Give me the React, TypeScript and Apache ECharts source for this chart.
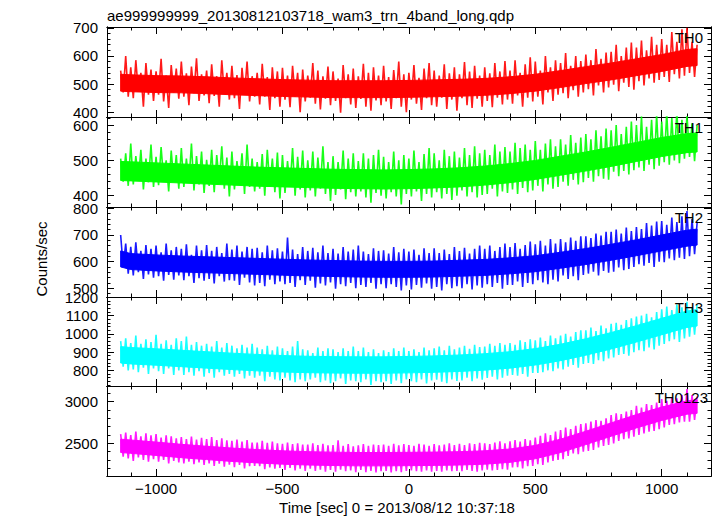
import React, { useEffect, useRef } from "react";
import * as echarts from "echarts";

const TITLE = "ae999999999_20130812103718_wam3_trn_4band_long.qdp";
const X_NAME = "Time [sec] 0 = 2013/08/12 10:37:18";
const Y_NAME = "Counts/sec";
const PANEL_NAMES = ["TH0", "TH1", "TH2", "TH3", "TH0123"];
const COLORS = ["#ff0000", "#00ff00", "#0000ff", "#00ffff", "#ff00ff"];

// fine sampling of the light curves (s)
const T_START = -1140;
const T_STEP = 10;

const TH0_FINE = [548, 470, 600, 455,
  560, 450, 585, 472, 540, 420, 575, 462, 552, 440,
  545, 462, 590, 438, 530, 415, 568, 470, 555, 448,
  580, 455, 538, 425, 562, 468, 592, 440, 535, 460,
  548, 432, 570, 458, 528, 420, 585, 465, 540, 445,
  565, 450, 532, 412, 558, 462, 580, 438, 528, 455,
  540, 428, 572, 455, 525, 408, 560, 450, 545, 420,
  558, 445, 530, 418, 565, 455, 540, 400, 552, 438,
  530, 452, 575, 430, 548, 410, 528, 448, 562, 425,
  545, 440, 520, 398, 568, 450, 535, 428, 555, 415,
  528, 447, 572, 420, 540, 405, 560, 442, 530, 425,
  565, 438, 525, 412, 550, 450, 580, 420, 535, 400,
  540, 445, 568, 430, 522, 408, 555, 450, 575, 425,
  548, 420, 530, 452, 570, 412, 538, 445, 560, 405,
  535, 450, 578, 425, 545, 415, 565, 448, 530, 420,
  560, 440, 538, 418, 575, 452, 545, 428, 582, 445,
  548, 430, 585, 460, 540, 420, 570, 452, 595, 438,
  580, 455, 548, 428, 600, 470, 560, 440, 585, 462,
  575, 468, 610, 450, 565, 478, 600, 455, 582, 470,
  605, 482, 585, 460, 625, 495, 590, 470, 612, 488,
  615, 498, 640, 475, 600, 505, 630, 490, 648, 480,
  630, 510, 655, 495, 620, 520, 668, 505, 640, 515,
  660, 525, 640, 508, 685, 535, 650, 520, 695, 530,
  700, 540, 650, 525, 640];

const TH1_FINE = [505, 440, 520, 428,
  548, 432, 512, 445, 530, 418, 505, 438, 545, 425,
  510, 430, 538, 445, 500, 412, 528, 440, 515, 420,
  535, 425, 505, 438, 548, 415, 512, 432, 525, 408,
  502, 428, 530, 410, 515, 440, 540, 420, 508, 398,
  525, 418, 498, 435, 520, 405, 545, 425, 505, 412,
  495, 420, 518, 400, 530, 428, 505, 410, 522, 392,
  515, 408, 498, 425, 535, 400, 510, 418, 528, 395,
  500, 415, 525, 398, 508, 420, 540, 405, 495, 385,
  512, 402, 495, 418, 528, 390, 505, 410, 520, 398,
  498, 412, 520, 395, 505, 380, 515, 408, 530, 400,
  510, 392, 495, 410, 525, 398, 500, 375, 515, 405,
  505, 398, 528, 412, 495, 385, 518, 405, 535, 395,
  520, 410, 500, 392, 530, 405, 512, 388, 525, 400,
  508, 415, 535, 398, 515, 410, 540, 395, 520, 402,
  530, 405, 515, 420, 545, 398, 525, 412, 538, 408,
  525, 418, 550, 405, 535, 422, 545, 410, 530, 415,
  555, 428, 530, 412, 548, 432, 560, 420, 540, 425,
  560, 440, 545, 428, 572, 445, 550, 432, 565, 438,
  575, 450, 560, 440, 585, 455, 568, 448, 590, 445,
  585, 468, 600, 455, 575, 470, 595, 460, 610, 472,
  600, 480, 625, 470, 595, 488, 615, 475, 630, 485,
  610, 495, 635, 488, 620, 500, 640, 492, 615, 505,
  630, 510, 605, 498, 600];

const TH2_FINE = [700, 580, 668, 555,
  655, 548, 672, 560, 640, 535, 662, 552, 648, 540,
  660, 545, 635, 528, 668, 550, 642, 532, 655, 548,
  648, 530, 665, 545, 625, 520, 660, 538, 642, 528,
  662, 535, 640, 518, 655, 545, 632, 525, 668, 530,
  645, 528, 660, 512, 638, 540, 655, 522, 648, 510,
  652, 520, 635, 508, 660, 532, 642, 515, 650, 525,
  638, 515, 690, 520, 645, 505, 628, 530, 655, 512,
  640, 528, 652, 502, 635, 518, 660, 510, 632, 522,
  648, 498, 630, 515, 655, 508, 638, 520, 645, 500,
  660, 512, 638, 505, 628, 520, 650, 498, 640, 515,
  642, 500, 630, 515, 655, 505, 635, 492, 648, 510,
  638, 495, 645, 512, 625, 502, 650, 518, 632, 498,
  650, 505, 632, 492, 645, 515, 628, 500, 655, 508,
  640, 500, 652, 515, 630, 495, 648, 510, 660, 502,
  648, 515, 660, 505, 640, 520, 655, 498, 668, 512,
  655, 512, 670, 525, 648, 505, 662, 520, 675, 515,
  665, 530, 678, 522, 660, 515, 685, 532, 668, 525,
  685, 548, 672, 535, 690, 545, 678, 530, 695, 550,
  695, 555, 688, 562, 705, 548, 698, 565, 712, 558,
  712, 562, 720, 578, 705, 568, 728, 572, 715, 580,
  730, 590, 722, 585, 745, 595, 735, 580, 750, 600,
  752, 598, 738, 612, 765, 605, 748, 615, 770, 610,
  790, 620, 760, 628, 745];

const TH3_FINE = [960, 820, 975, 800,
  950, 805, 990, 790, 945, 815, 970, 780, 955, 810,
  995, 795, 945, 780, 965, 810, 940, 775, 975, 800,
  960, 775, 985, 790, 940, 770, 955, 795, 935, 765,
  945, 785, 930, 760, 960, 790, 925, 770, 950, 780,
  935, 765, 920, 780, 940, 755, 925, 770, 945, 760,
  925, 770, 915, 740, 935, 765, 910, 750, 930, 745,
  920, 760, 905, 745, 930, 735, 960, 750, 915, 740,
  910, 750, 895, 760, 925, 735, 905, 745, 920, 730,
  915, 740, 900, 755, 920, 725, 905, 745, 930, 740,
  905, 735, 925, 750, 900, 720, 915, 740, 895, 735,
  910, 740, 900, 725, 920, 745, 905, 730, 925, 750,
  905, 740, 915, 735, 900, 750, 925, 728, 910, 745,
  920, 748, 930, 738, 910, 730, 935, 750, 915, 742,
  925, 745, 935, 760, 918, 740, 940, 755, 928, 748,
  930, 758, 945, 765, 935, 750, 950, 760, 940, 770,
  950, 775, 940, 770, 965, 780, 955, 765, 970, 785,
  965, 785, 980, 790, 960, 800, 990, 795, 975, 810,
  990, 805, 1000, 820, 985, 830, 1010, 815, 1020, 835,
  1020, 840, 1035, 835, 1015, 855, 1045, 850, 1030, 865,
  1055, 870, 1060, 885, 1050, 890, 1075, 880, 1085, 900,
  1095, 910, 1100, 905, 1110, 925, 1090, 915, 1120, 935,
  1135, 945, 1150, 960, 1130, 970, 1160, 955, 1145, 975,
  1175, 985, 1145, 995, 1160];

const TH0123_FINE = [2610, 2340, 2630, 2320,
  2600, 2290, 2640, 2330, 2585, 2300, 2620, 2280, 2595, 2310,
  2610, 2280, 2570, 2300, 2595, 2260, 2585, 2290, 2560, 2270,
  2575, 2260, 2550, 2280, 2580, 2250, 2545, 2270, 2565, 2240,
  2550, 2260, 2575, 2230, 2540, 2255, 2560, 2220, 2535, 2245,
  2530, 2215, 2545, 2240, 2520, 2200, 2540, 2225, 2510, 2230,
  2510, 2225, 2530, 2190, 2505, 2210, 2520, 2195, 2500, 2205,
  2495, 2180, 2510, 2205, 2490, 2175, 2500, 2195, 2485, 2170,
  2485, 2195, 2500, 2170, 2480, 2185, 2495, 2160, 2475, 2180,
  2480, 2160, 2535, 2185, 2470, 2165, 2490, 2175, 2465, 2155,
  2475, 2180, 2490, 2155, 2470, 2170, 2485, 2150, 2480, 2165,
  2485, 2170, 2470, 2150, 2495, 2165, 2475, 2155, 2490, 2170,
  2480, 2175, 2470, 2165, 2495, 2160, 2485, 2175, 2470, 2160,
  2490, 2170, 2475, 2160, 2485, 2175, 2500, 2165, 2480, 2170,
  2495, 2165, 2480, 2180, 2500, 2170, 2490, 2160, 2505, 2175,
  2500, 2185, 2490, 2175, 2510, 2180, 2525, 2190, 2500, 2185,
  2525, 2210, 2540, 2215, 2520, 2200, 2550, 2225, 2535, 2230,
  2570, 2250, 2590, 2240, 2620, 2270, 2600, 2290, 2640, 2300,
  2660, 2310, 2690, 2350, 2670, 2380, 2710, 2370, 2730, 2400,
  2740, 2410, 2760, 2420, 2780, 2450, 2770, 2470, 2800, 2480,
  2840, 2500, 2860, 2530, 2850, 2550, 2880, 2560, 2900, 2580,
  2950, 2600, 2930, 2620, 2970, 2640, 2960, 2650, 2990, 2670,
  3030, 2690, 3010, 2720, 3050, 2730, 3040, 2750, 3080, 2760,
  3150, 2760, 3080, 2780, 3060];

// dense core of each light curve (low / high)
const BAND_T = [-1140, -1100, -1000, -900, -800, -700, -600, -500, -400, -300, -200, -100, 0,
  100, 200, 300, 400, 500, 600, 700, 800, 900, 1000, 1100, 1140];
const TH0_LO = [475, 473, 470, 469, 466, 462, 459, 456, 454, 452, 452, 452, 453, 455, 457, 460, 466, 475, 488, 502, 515, 530, 545, 563, 566];
const TH0_HI = [535, 533, 530, 529, 526, 522, 519, 516, 514, 512, 512, 512, 513, 515, 517, 520, 526, 535, 548, 562, 575, 590, 605, 623, 626];
const TH1_LO = [443, 442, 439, 436, 433, 430, 427, 425, 423, 421, 420, 419, 420, 422, 425, 430, 437, 446, 458, 470, 483, 497, 511, 522, 524];
const TH1_HI = [497, 496, 493, 490, 487, 484, 481, 479, 477, 475, 474, 473, 474, 476, 479, 484, 491, 500, 512, 524, 537, 551, 565, 576, 578];
const TH2_LO = [580, 570, 565, 561, 558, 555, 552, 549, 546, 544, 542, 541, 541, 542, 545, 548, 554, 562, 575, 589, 605, 622, 640, 658, 662];
const TH2_HI = [640, 630, 625, 621, 618, 615, 612, 609, 606, 604, 602, 601, 601, 602, 605, 608, 614, 622, 635, 649, 665, 682, 700, 718, 722];
const TH3_LO = [840, 835, 828, 820, 812, 804, 797, 791, 787, 785, 784, 784, 786, 789, 794, 801, 812, 829, 853, 883, 917, 955, 995, 1035, 1043];
const TH3_HI = [930, 925, 918, 910, 902, 894, 887, 881, 877, 875, 874, 874, 876, 879, 884, 891, 902, 919, 943, 973, 1007, 1045, 1085, 1125, 1133];
const TH0123_LO = [2390, 2380, 2355, 2328, 2305, 2283, 2265, 2250, 2240, 2234, 2230, 2230, 2232, 2235, 2240, 2250, 2272, 2315, 2390, 2485, 2585, 2685, 2775, 2850, 2860];
const TH0123_HI = [2550, 2540, 2515, 2488, 2465, 2443, 2425, 2410, 2400, 2394, 2390, 2390, 2392, 2395, 2400, 2410, 2432, 2475, 2550, 2645, 2745, 2845, 2935, 3010, 3020];

// axes
const X_MIN = -1194;
const X_MAX = 1195;
const X_MAJOR = [-1000, -500, 0, 500, 1000];
const X_MINOR = [-1100, -900, -800, -700, -600, -400, -300, -200, -100, 100, 200, 300, 400, 600, 700, 800, 900, 1100];
const Y_MIN = [383, 368, 467, 714, 2108];
const Y_MAX = [703, 623, 805, 1202, 3188];
const Y_MAJOR = [
  [400, 500, 600, 700],
  [400, 500, 600],
  [500, 600, 700, 800],
  [800, 900, 1000, 1100, 1200],
  [2500, 3000],
];
const Y_MINOR = [
  [420, 440, 460, 480, 520, 540, 560, 580, 620, 640, 660, 680],
  [380, 420, 440, 460, 480, 520, 540, 560, 580, 620],
  [480, 520, 540, 560, 580, 620, 640, 660, 680, 720, 740, 760, 780],
  [720, 740, 760, 780, 820, 840, 860, 880, 920, 940, 960, 980, 1020, 1040, 1060, 1080, 1120, 1140, 1160, 1180],
  [2200, 2300, 2400, 2600, 2700, 2800, 2900, 3100],
];

const FINES = [TH0_FINE, TH1_FINE, TH2_FINE, TH3_FINE, TH0123_FINE];
const LOS = [TH0_LO, TH1_LO, TH2_LO, TH3_LO, TH0123_LO];
const HIS = [TH0_HI, TH1_HI, TH2_HI, TH3_HI, TH0123_HI];

// layout
const GRID_TOP = [27, 117, 207, 297, 386];
const GRID_H = [90, 90, 90, 89, 90];
const FONT = "'Liberation Sans', Arial, Helvetica, sans-serif";
const NAME_POS = [
  { x: 703, y: 37 },
  { x: 703, y: 127 },
  { x: 703, y: 217 },
  { x: 703, y: 307 },
  { x: 708, y: 397 },
];

const fmtX = (v: number) => (v < 0 ? "\u2212" + Math.abs(v) : String(v));
const fmtY = (v: number) => String(v);

function buildOption() {
  const grid: any[] = [];
  const xAxis: any[] = [];
  const yAxis: any[] = [];
  const series: any[] = [];

  for (let i = 0; i < 5; i++) {
    grid.push({ left: 107, right: 6, top: GRID_TOP[i], height: GRID_H[i], containLabel: false });
    const mkX = (pos: string, vals: number[], len: number, label: boolean) => ({
      type: "value",
      gridIndex: i,
      position: pos,
      min: X_MIN,
      max: X_MAX,
      axisLine: { show: true, onZero: false, lineStyle: { color: "#000", width: 1 } },
      axisTick: { show: true, inside: true, length: len, customValues: vals, lineStyle: { color: "#000", width: 1 } },
      axisLabel: {
        show: label,
        customValues: X_MAJOR,
        color: "#000",
        fontSize: 15,
        fontFamily: FONT,
        margin: 5,
        formatter: fmtX,
      },
      splitLine: { show: false },
    });
    xAxis.push(mkX("bottom", X_MAJOR, 7, i === 4));
    xAxis.push(mkX("bottom", X_MINOR, 3.5, false));
    xAxis.push(mkX("top", X_MAJOR, 7, false));
    xAxis.push(mkX("top", X_MINOR, 3.5, false));

    const mkY = (pos: string, vals: number[], len: number, label: boolean) => ({
      type: "value",
      gridIndex: i,
      position: pos,
      min: Y_MIN[i],
      max: Y_MAX[i],
      axisLine: { show: true, onZero: false, lineStyle: { color: "#000", width: 1 } },
      axisTick: { show: true, inside: true, length: len, customValues: vals, lineStyle: { color: "#000", width: 1 } },
      axisLabel: {
        show: label,
        customValues: Y_MAJOR[i],
        color: "#000",
        fontSize: 15,
        fontFamily: FONT,
        margin: 9,
        formatter: fmtY,
      },
      splitLine: { show: false },
    });
    yAxis.push(mkY("left", Y_MAJOR[i], 7, true));
    yAxis.push(mkY("left", Y_MINOR[i], 3.5, false));
    yAxis.push(mkY("right", Y_MAJOR[i], 7, false));
    yAxis.push(mkY("right", Y_MINOR[i], 3.5, false));

    const xi = i * 4;
    const yi = i * 4;
    const lo = LOS[i];
    const hi = HIS[i];
    const color = COLORS[i];
    series.push({
      type: "custom",
      xAxisIndex: xi,
      yAxisIndex: yi,
      silent: true,
      z: 2,
      data: BAND_T.map((t, j) => [t, lo[j], hi[j]]),
      encode: { x: 0, y: [1, 2] },
      renderItem: (params: any, api: any) => {
        if (params.dataIndex !== 0) return null;
        const pts: number[][] = [];
        for (let j = 0; j < BAND_T.length; j++) pts.push(api.coord([BAND_T[j], hi[j]]));
        for (let j = BAND_T.length - 1; j >= 0; j--) pts.push(api.coord([BAND_T[j], lo[j]]));
        return { type: "polygon", shape: { points: pts }, style: { fill: color, stroke: color, lineWidth: 1 } };
      },
    });
    series.push({
      type: "line",
      xAxisIndex: xi,
      yAxisIndex: yi,
      symbol: "none",
      silent: true,
      lineStyle: { width: 1.6, color, opacity: 0.9 },
      data: FINES[i].map((v, k) => [T_START + k * T_STEP, v]),
      z: 3,
    });
  }

  const graphic: any[] = [
    {
      type: "text",
      x: 107,
      y: 15,
      style: { text: TITLE, fill: "#000", font: `15px ${FONT}`, align: "left", verticalAlign: "middle", textAlign: "left", textVerticalAlign: "middle" },
    },
    {
      type: "text",
      x: 41,
      y: 259,
      rotation: Math.PI / 2,
      style: { text: Y_NAME, fill: "#000", font: `15px ${FONT}`, align: "center", verticalAlign: "middle", textAlign: "center", textVerticalAlign: "middle" },
    },
    {
      type: "text",
      x: 397,
      y: 507,
      style: { text: X_NAME, fill: "#000", font: `15px ${FONT}`, align: "center", verticalAlign: "middle", textAlign: "center", textVerticalAlign: "middle" },
    },
  ];
  PANEL_NAMES.forEach((n, i) => {
    graphic.push({
      type: "text",
      x: NAME_POS[i].x,
      y: NAME_POS[i].y,
      z: 100,
      style: { text: n, fill: "#000", font: `15px ${FONT}`, align: "right", verticalAlign: "middle", textAlign: "right", textVerticalAlign: "middle" },
    });
  });

  return {
    animation: false,
    backgroundColor: "#fff",
    grid,
    xAxis,
    yAxis,
    series,
    graphic,
  };
}

export default function App() {
  const ref = useRef<HTMLDivElement>(null);
  useEffect(() => {
    if (!ref.current) return;
    const chart = echarts.init(ref.current, undefined, { renderer: "svg" });
    chart.setOption(buildOption() as any);
    return () => chart.dispose();
  }, []);
  return (
    <div
      ref={ref}
      style={{ position: "absolute", left: 0, top: 0, width: 717, height: 516, background: "#fff" }}
    />
  );
}
